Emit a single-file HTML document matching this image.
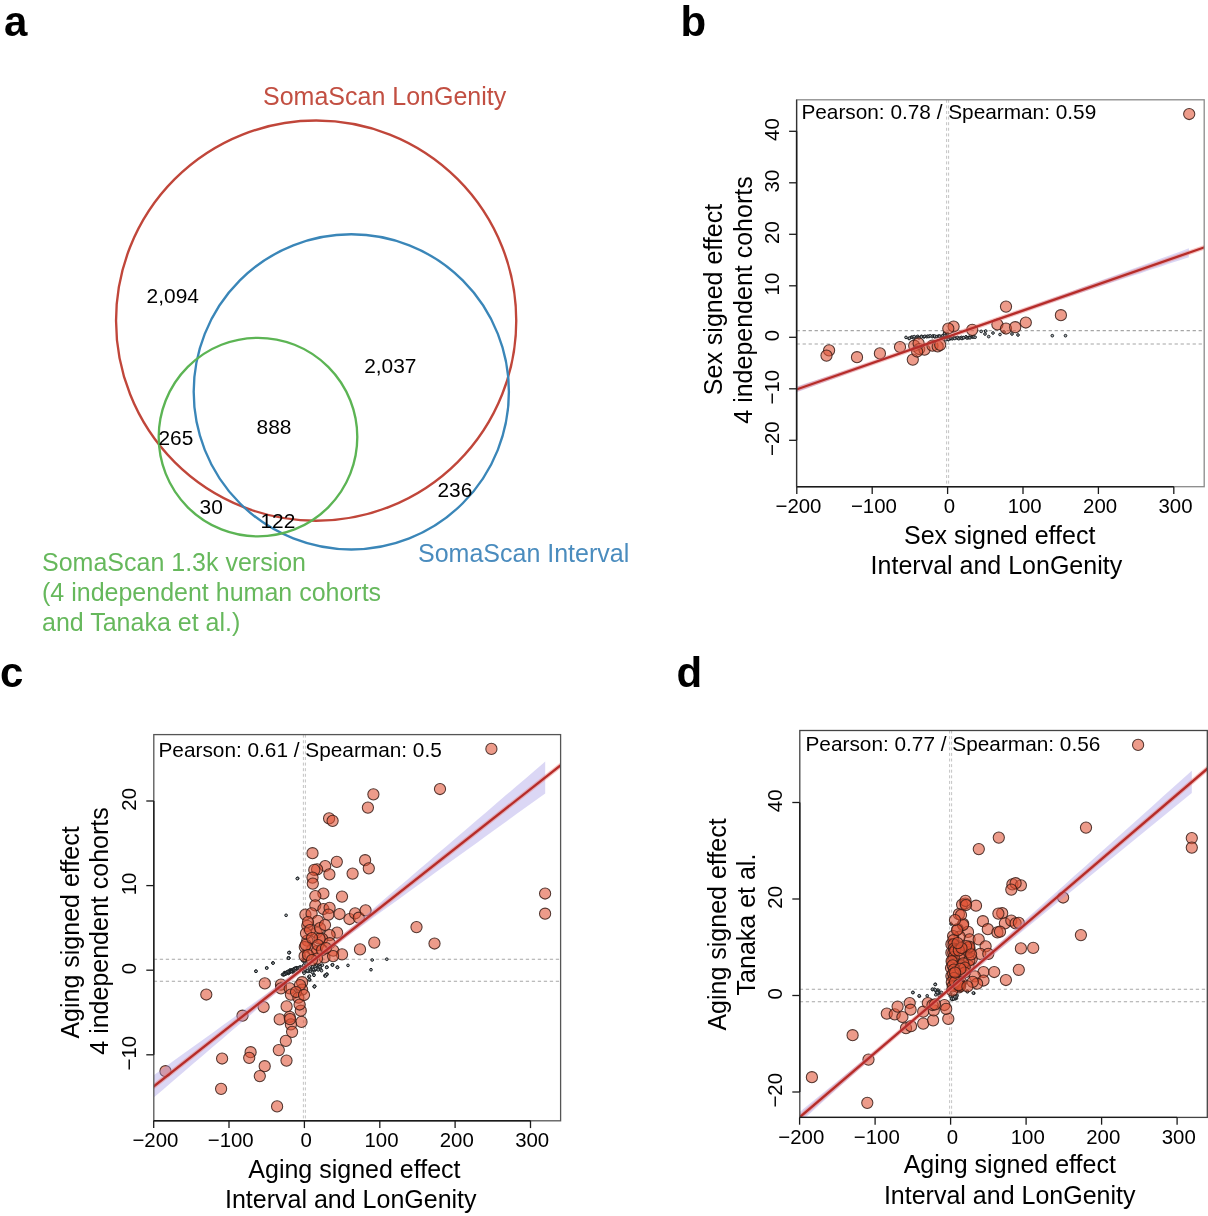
<!DOCTYPE html>
<html><head><meta charset="utf-8"><style>
html,body{margin:0;padding:0;background:#fff;}
svg{display:block;font-family:"Liberation Sans", sans-serif;will-change:transform;}
</style></head><body>
<svg width="1208" height="1216" viewBox="0 0 1208 1216">
<rect width="1208" height="1216" fill="#fff"/>
<text x="4.0" y="35.5" font-size="42" text-anchor="start" font-weight="bold" fill="#000">a</text>
<text x="680.5" y="35.5" font-size="42" text-anchor="start" font-weight="bold" fill="#000">b</text>
<text x="0.0" y="686.5" font-size="42" text-anchor="start" font-weight="bold" fill="#000">c</text>
<text x="676.5" y="686.5" font-size="42" text-anchor="start" font-weight="bold" fill="#000">d</text>
<circle cx="316.15" cy="320.65" r="200.1" fill="none" stroke="#c0463a" stroke-width="2.35"/>
<circle cx="351.3" cy="391.85" r="157.6" fill="none" stroke="#3a86b8" stroke-width="2.35"/>
<circle cx="258.0" cy="437.1" r="99.3" fill="none" stroke="#5cb454" stroke-width="2.35"/>
<text x="263.0" y="105.0" font-size="25" text-anchor="start" font-weight="normal" fill="#c24f42">SomaScan LonGenity</text>
<text x="418.0" y="561.5" font-size="25" text-anchor="start" font-weight="normal" fill="#4a8cbe">SomaScan Interval</text>
<text x="42.0" y="570.5" font-size="25" text-anchor="start" font-weight="normal" fill="#66b85c">SomaScan 1.3k version</text>
<text x="42.0" y="600.5" font-size="25" text-anchor="start" font-weight="normal" fill="#66b85c">(4 independent human cohorts</text>
<text x="42.0" y="630.5" font-size="25" text-anchor="start" font-weight="normal" fill="#66b85c">and Tanaka et al.)</text>
<text x="146.6" y="302.9" font-size="20.9" text-anchor="start" font-weight="normal" fill="#000">2,094</text>
<text x="364.2" y="372.6" font-size="20.9" text-anchor="start" font-weight="normal" fill="#000">2,037</text>
<text x="158.4" y="444.6" font-size="20.9" text-anchor="start" font-weight="normal" fill="#000">265</text>
<text x="256.6" y="433.6" font-size="20.9" text-anchor="start" font-weight="normal" fill="#000">888</text>
<text x="199.6" y="513.6" font-size="20.9" text-anchor="start" font-weight="normal" fill="#000">30</text>
<text x="260.4" y="527.6" font-size="20.9" text-anchor="start" font-weight="normal" fill="#000">122</text>
<text x="437.4" y="496.6" font-size="20.9" text-anchor="start" font-weight="normal" fill="#000">236</text>
<clipPath id="clip796"><rect x="796.6" y="99.8" width="407.6" height="386.9"/></clipPath>
<g clip-path="url(#clip796)" stroke="#a6a6a6" stroke-width="1.1" stroke-dasharray="3.3 2.7" fill="none"><line x1="796.6" y1="330.6" x2="1204.2" y2="330.6"/><line x1="796.6" y1="344.0" x2="1204.2" y2="344.0"/></g><g clip-path="url(#clip796)" stroke="#bcbcbc" stroke-width="0.9" stroke-dasharray="3 2.6" fill="none"><line x1="946.6" y1="99.8" x2="946.6" y2="486.7"/><line x1="948.6" y1="99.8" x2="948.6" y2="486.7"/></g>
<g clip-path="url(#clip796)" fill="#a8aeb2" stroke="#15191c" stroke-width="0.95"><circle cx="1052.3" cy="335.7" r="1.35"/><circle cx="1065.5" cy="335.7" r="1.35"/><circle cx="981.2" cy="331.4" r="1.35"/><circle cx="985.7" cy="331.0" r="1.35"/><circle cx="985.0" cy="334.0" r="1.35"/><circle cx="988.7" cy="336.6" r="1.35"/><circle cx="906.0" cy="337.4" r="1.35"/><circle cx="909.0" cy="338.5" r="1.35"/><circle cx="993.0" cy="333.0" r="1.35"/><circle cx="1000.0" cy="334.5" r="1.35"/><circle cx="1004.0" cy="332.0" r="1.35"/><circle cx="1012.0" cy="334.0" r="1.35"/><circle cx="1018.0" cy="335.0" r="1.35"/><circle cx="909.4" cy="338.2" r="1.35"/><circle cx="911.6" cy="337.1" r="1.35"/><circle cx="912.4" cy="337.4" r="1.35"/><circle cx="913.9" cy="337.9" r="1.35"/><circle cx="914.2" cy="336.6" r="1.35"/><circle cx="916.6" cy="337.2" r="1.35"/><circle cx="917.7" cy="336.4" r="1.35"/><circle cx="918.4" cy="337.5" r="1.35"/><circle cx="919.2" cy="337.8" r="1.35"/><circle cx="921.5" cy="336.3" r="1.35"/><circle cx="921.3" cy="337.0" r="1.35"/><circle cx="924.0" cy="336.7" r="1.35"/><circle cx="924.0" cy="336.7" r="1.35"/><circle cx="924.9" cy="336.3" r="1.35"/><circle cx="926.8" cy="336.7" r="1.35"/><circle cx="927.7" cy="336.2" r="1.35"/><circle cx="928.9" cy="336.5" r="1.35"/><circle cx="930.2" cy="335.8" r="1.35"/><circle cx="932.3" cy="336.6" r="1.35"/><circle cx="933.2" cy="335.9" r="1.35"/><circle cx="934.9" cy="336.9" r="1.35"/><circle cx="934.7" cy="336.0" r="1.35"/><circle cx="936.9" cy="336.6" r="1.35"/><circle cx="938.5" cy="336.0" r="1.35"/><circle cx="939.5" cy="336.4" r="1.35"/><circle cx="939.9" cy="336.2" r="1.35"/><circle cx="942.0" cy="336.5" r="1.35"/><circle cx="942.6" cy="336.1" r="1.35"/><circle cx="943.0" cy="335.5" r="1.35"/><circle cx="945.5" cy="335.7" r="1.35"/><circle cx="948.5" cy="338.6" r="1.35"/><circle cx="950.4" cy="338.7" r="1.35"/><circle cx="951.0" cy="338.3" r="1.35"/><circle cx="952.3" cy="338.8" r="1.35"/><circle cx="953.4" cy="338.1" r="1.35"/><circle cx="954.4" cy="337.4" r="1.35"/><circle cx="954.8" cy="338.5" r="1.35"/><circle cx="957.4" cy="338.2" r="1.35"/><circle cx="957.5" cy="337.5" r="1.35"/><circle cx="958.8" cy="338.7" r="1.35"/><circle cx="960.3" cy="337.9" r="1.35"/><circle cx="961.5" cy="337.4" r="1.35"/><circle cx="962.0" cy="338.5" r="1.35"/><circle cx="963.2" cy="337.6" r="1.35"/><circle cx="963.8" cy="337.7" r="1.35"/><circle cx="966.0" cy="336.8" r="1.35"/><circle cx="966.8" cy="338.0" r="1.35"/><circle cx="968.0" cy="337.8" r="1.35"/><circle cx="969.0" cy="337.4" r="1.35"/><circle cx="969.7" cy="337.2" r="1.35"/><circle cx="970.0" cy="337.8" r="1.35"/><circle cx="971.9" cy="336.7" r="1.35"/><circle cx="972.8" cy="337.1" r="1.35"/><circle cx="973.7" cy="336.8" r="1.35"/><circle cx="975.1" cy="337.2" r="1.35"/><circle cx="947.3" cy="336.7" r="1.35"/><circle cx="944.6" cy="334.8" r="1.35"/><circle cx="945.3" cy="337.7" r="1.35"/><circle cx="948.4" cy="339.4" r="1.35"/><circle cx="948.1" cy="339.5" r="1.35"/><circle cx="945.6" cy="339.7" r="1.35"/><circle cx="947.5" cy="333.7" r="1.35"/><circle cx="944.6" cy="333.1" r="1.35"/></g>
<g clip-path="url(#clip796)" fill="rgb(224,82,54)" fill-opacity="0.58" stroke="rgb(55,28,22)" stroke-opacity="0.85" stroke-width="1.05"><circle cx="829.1" cy="350.3" r="5.6"/><circle cx="826.5" cy="355.6" r="5.6"/><circle cx="857.0" cy="357.2" r="5.6"/><circle cx="879.9" cy="353.4" r="5.6"/><circle cx="900.0" cy="347.0" r="5.6"/><circle cx="912.8" cy="359.6" r="5.6"/><circle cx="914.2" cy="345.7" r="5.6"/><circle cx="919.2" cy="349.0" r="5.6"/><circle cx="924.5" cy="349.7" r="5.6"/><circle cx="932.5" cy="345.7" r="5.6"/><circle cx="937.7" cy="346.4" r="5.6"/><circle cx="953.6" cy="326.5" r="5.6"/><circle cx="948.3" cy="328.5" r="5.6"/><circle cx="1006.0" cy="306.6" r="5.6"/><circle cx="972.2" cy="329.8" r="5.6"/><circle cx="997.4" cy="324.5" r="5.6"/><circle cx="1006.0" cy="328.5" r="5.6"/><circle cx="1015.2" cy="327.2" r="5.6"/><circle cx="1025.8" cy="322.5" r="5.6"/><circle cx="1060.9" cy="315.2" r="5.6"/><circle cx="1189.2" cy="114.0" r="5.6"/><circle cx="918.6" cy="343.3" r="5.6"/><circle cx="917.1" cy="351.5" r="5.6"/><circle cx="940.2" cy="344.8" r="5.6"/></g>
<g clip-path="url(#clip796)"><polygon points="796.8,386.4 806.6,383.1 816.4,379.9 826.2,376.7 836.0,373.4 845.8,370.2 855.6,366.9 865.4,363.7 875.2,360.4 885.0,357.2 894.8,353.9 904.6,350.6 914.4,347.3 924.2,344.0 934.0,340.7 943.8,337.4 953.6,334.0 963.4,330.5 973.2,327.0 983.0,323.5 992.8,320.0 1002.6,316.4 1012.4,312.9 1022.2,309.3 1032.0,305.7 1041.8,302.1 1051.7,298.6 1061.5,295.0 1071.3,291.4 1081.1,287.8 1090.9,284.2 1100.7,280.6 1110.5,277.0 1120.3,273.4 1130.1,269.8 1139.9,266.3 1149.7,262.7 1159.5,259.1 1169.3,255.5 1179.1,251.9 1188.9,248.3 1188.9,257.2 1179.1,260.4 1169.3,263.6 1159.5,266.9 1149.7,270.1 1139.9,273.4 1130.1,276.6 1120.3,279.8 1110.5,283.1 1100.7,286.3 1090.9,289.6 1081.1,292.8 1071.3,296.0 1061.5,299.3 1051.7,302.5 1041.8,305.8 1032.0,309.0 1022.2,312.3 1012.4,315.5 1002.6,318.8 992.8,322.1 983.0,325.4 973.2,328.7 963.4,332.0 953.6,335.4 943.8,338.8 934.0,342.3 924.2,345.8 914.4,349.3 904.6,352.9 894.8,356.4 885.0,360.0 875.2,363.6 865.4,367.2 855.6,370.7 845.8,374.3 836.0,377.9 826.2,381.5 816.4,385.1 806.6,388.7 796.8,392.3" fill="rgb(160,150,230)" fill-opacity="0.38"/>
<line x1="751.6" y1="405.1" x2="1249.2" y2="231.7" stroke="rgb(235,120,115)" stroke-opacity="0.45" stroke-width="4.6"/>
<line x1="751.6" y1="405.1" x2="1249.2" y2="231.7" stroke="#b62c28" stroke-width="2.3"/></g>
<rect x="796.6" y="99.8" width="407.6" height="386.9" fill="none" stroke="#8a8a8a" stroke-width="1.3"/>
<line x1="796.8" y1="486.7" x2="1173.8" y2="486.7" stroke="#1a1a1a" stroke-width="1.4"/>
<line x1="796.6" y1="99.8" x2="796.6" y2="486.7" stroke="#333" stroke-width="1.3"/>
<line x1="796.6" y1="440.3" x2="796.6" y2="131.3" stroke="#1a1a1a" stroke-width="1.4"/>
<line x1="796.8" y1="486.7" x2="796.8" y2="494.0" stroke="#1a1a1a" stroke-width="1.3"/>
<text x="798.5" y="512.9" font-size="20.4" text-anchor="middle" font-weight="normal" fill="#000">−200</text>
<line x1="872.2" y1="486.7" x2="872.2" y2="494.0" stroke="#1a1a1a" stroke-width="1.3"/>
<text x="873.9" y="512.9" font-size="20.4" text-anchor="middle" font-weight="normal" fill="#000">−100</text>
<line x1="947.6" y1="486.7" x2="947.6" y2="494.0" stroke="#1a1a1a" stroke-width="1.3"/>
<text x="949.3" y="512.9" font-size="20.4" text-anchor="middle" font-weight="normal" fill="#000">0</text>
<line x1="1023.0" y1="486.7" x2="1023.0" y2="494.0" stroke="#1a1a1a" stroke-width="1.3"/>
<text x="1024.7" y="512.9" font-size="20.4" text-anchor="middle" font-weight="normal" fill="#000">100</text>
<line x1="1098.4" y1="486.7" x2="1098.4" y2="494.0" stroke="#1a1a1a" stroke-width="1.3"/>
<text x="1100.1" y="512.9" font-size="20.4" text-anchor="middle" font-weight="normal" fill="#000">200</text>
<line x1="1173.8" y1="486.7" x2="1173.8" y2="494.0" stroke="#1a1a1a" stroke-width="1.3"/>
<text x="1175.5" y="512.9" font-size="20.4" text-anchor="middle" font-weight="normal" fill="#000">300</text>
<line x1="789.1" y1="440.3" x2="796.6" y2="440.3" stroke="#1a1a1a" stroke-width="1.3"/>
<text x="779.1" y="438.6" font-size="20.4" text-anchor="middle" font-weight="normal" fill="#000" transform="rotate(-90 779.1 438.6)">−20</text>
<line x1="789.1" y1="388.8" x2="796.6" y2="388.8" stroke="#1a1a1a" stroke-width="1.3"/>
<text x="779.1" y="387.1" font-size="20.4" text-anchor="middle" font-weight="normal" fill="#000" transform="rotate(-90 779.1 387.1)">−10</text>
<line x1="789.1" y1="337.3" x2="796.6" y2="337.3" stroke="#1a1a1a" stroke-width="1.3"/>
<text x="779.1" y="335.6" font-size="20.4" text-anchor="middle" font-weight="normal" fill="#000" transform="rotate(-90 779.1 335.6)">0</text>
<line x1="789.1" y1="285.8" x2="796.6" y2="285.8" stroke="#1a1a1a" stroke-width="1.3"/>
<text x="779.1" y="284.1" font-size="20.4" text-anchor="middle" font-weight="normal" fill="#000" transform="rotate(-90 779.1 284.1)">10</text>
<line x1="789.1" y1="234.3" x2="796.6" y2="234.3" stroke="#1a1a1a" stroke-width="1.3"/>
<text x="779.1" y="232.6" font-size="20.4" text-anchor="middle" font-weight="normal" fill="#000" transform="rotate(-90 779.1 232.6)">20</text>
<line x1="789.1" y1="182.8" x2="796.6" y2="182.8" stroke="#1a1a1a" stroke-width="1.3"/>
<text x="779.1" y="181.1" font-size="20.4" text-anchor="middle" font-weight="normal" fill="#000" transform="rotate(-90 779.1 181.1)">30</text>
<line x1="789.1" y1="131.3" x2="796.6" y2="131.3" stroke="#1a1a1a" stroke-width="1.3"/>
<text x="779.1" y="129.6" font-size="20.4" text-anchor="middle" font-weight="normal" fill="#000" transform="rotate(-90 779.1 129.6)">40</text>
<text x="999.7" y="543.5" font-size="25" text-anchor="middle" font-weight="normal" fill="#000">Sex signed effect</text>
<text x="996.4" y="574.0" font-size="25" text-anchor="middle" font-weight="normal" fill="#000">Interval and LonGenity</text>
<text x="722.0" y="299.5" font-size="25" text-anchor="middle" font-weight="normal" fill="#000" transform="rotate(-90 722.0 299.5)">Sex signed effect</text>
<text x="752.0" y="300.0" font-size="25" text-anchor="middle" font-weight="normal" fill="#000" transform="rotate(-90 752.0 300.0)">4 independent cohorts</text>
<text x="801.4" y="118.7" font-size="20.8" text-anchor="start" font-weight="normal" fill="#000">Pearson: 0.78 / Spearman: 0.59</text>
<clipPath id="clip153"><rect x="153.8" y="734.6" width="406.8" height="386.19999999999993"/></clipPath>
<g clip-path="url(#clip153)" stroke="#a6a6a6" stroke-width="1.1" stroke-dasharray="3.3 2.7" fill="none"><line x1="153.8" y1="959.2" x2="560.6" y2="959.2"/><line x1="153.8" y1="981.2" x2="560.6" y2="981.2"/></g><g clip-path="url(#clip153)" stroke="#bcbcbc" stroke-width="0.9" stroke-dasharray="3 2.6" fill="none"><line x1="303.4" y1="734.6" x2="303.4" y2="1120.8"/><line x1="305.4" y1="734.6" x2="305.4" y2="1120.8"/></g>
<g clip-path="url(#clip153)" fill="#a8aeb2" stroke="#15191c" stroke-width="0.95"><circle cx="297.7" cy="878.3" r="1.35"/><circle cx="297.3" cy="878.6" r="1.35"/><circle cx="286.1" cy="915.3" r="1.35"/><circle cx="289.2" cy="952.5" r="1.35"/><circle cx="288.6" cy="958.1" r="1.35"/><circle cx="289.4" cy="952.6" r="1.35"/><circle cx="288.4" cy="957.9" r="1.35"/><circle cx="272.9" cy="962.9" r="1.35"/><circle cx="266.7" cy="967.9" r="1.35"/><circle cx="255.9" cy="971.2" r="1.35"/><circle cx="372.2" cy="960.0" r="1.35"/><circle cx="386.8" cy="959.2" r="1.35"/><circle cx="371.0" cy="969.7" r="1.35"/><circle cx="348.0" cy="965.4" r="1.35"/><circle cx="337.5" cy="967.3" r="1.35"/><circle cx="332.5" cy="964.8" r="1.35"/><circle cx="326.9" cy="967.3" r="1.35"/><circle cx="326.9" cy="974.1" r="1.35"/><circle cx="325.1" cy="975.3" r="1.35"/><circle cx="314.5" cy="986.5" r="1.35"/><circle cx="314.6" cy="986.0" r="1.35"/><circle cx="315.8" cy="964.9" r="1.35"/><circle cx="320.2" cy="966.4" r="1.35"/><circle cx="326.7" cy="967.1" r="1.35"/><circle cx="332.4" cy="964.9" r="1.35"/><circle cx="337.4" cy="967.1" r="1.35"/><circle cx="326.7" cy="974.8" r="1.35"/><circle cx="325.2" cy="975.8" r="1.35"/><circle cx="314.3" cy="986.8" r="1.35"/><circle cx="309.8" cy="979.8" r="1.35"/><circle cx="308.8" cy="976.8" r="1.35"/><circle cx="313.8" cy="974.8" r="1.35"/><circle cx="288.9" cy="952.7" r="1.35"/><circle cx="288.7" cy="958.0" r="1.35"/><circle cx="282.5" cy="974.6" r="1.35"/><circle cx="283.4" cy="974.5" r="1.35"/><circle cx="284.5" cy="972.7" r="1.35"/><circle cx="283.9" cy="974.7" r="1.35"/><circle cx="285.1" cy="972.6" r="1.35"/><circle cx="287.2" cy="973.1" r="1.35"/><circle cx="287.5" cy="972.8" r="1.35"/><circle cx="287.7" cy="971.6" r="1.35"/><circle cx="288.4" cy="973.5" r="1.35"/><circle cx="288.8" cy="972.8" r="1.35"/><circle cx="289.7" cy="970.5" r="1.35"/><circle cx="290.5" cy="971.8" r="1.35"/><circle cx="290.3" cy="969.9" r="1.35"/><circle cx="292.0" cy="971.0" r="1.35"/><circle cx="292.4" cy="971.9" r="1.35"/><circle cx="293.0" cy="971.8" r="1.35"/><circle cx="293.0" cy="971.1" r="1.35"/><circle cx="293.7" cy="971.3" r="1.35"/><circle cx="295.2" cy="968.5" r="1.35"/><circle cx="294.4" cy="968.6" r="1.35"/><circle cx="296.7" cy="969.0" r="1.35"/><circle cx="296.7" cy="968.3" r="1.35"/><circle cx="304.8" cy="969.5" r="1.35"/><circle cx="305.3" cy="970.2" r="1.35"/><circle cx="306.6" cy="971.3" r="1.35"/><circle cx="307.6" cy="971.3" r="1.35"/><circle cx="308.8" cy="971.4" r="1.35"/><circle cx="309.3" cy="967.9" r="1.35"/><circle cx="310.5" cy="971.0" r="1.35"/><circle cx="311.4" cy="969.3" r="1.35"/><circle cx="311.9" cy="967.7" r="1.35"/><circle cx="312.9" cy="969.0" r="1.35"/><circle cx="312.7" cy="966.8" r="1.35"/><circle cx="314.6" cy="970.4" r="1.35"/><circle cx="313.9" cy="969.5" r="1.35"/><circle cx="315.4" cy="966.7" r="1.35"/><circle cx="316.0" cy="969.1" r="1.35"/><circle cx="318.0" cy="966.0" r="1.35"/><circle cx="318.3" cy="965.9" r="1.35"/><circle cx="319.3" cy="966.9" r="1.35"/><circle cx="320.5" cy="969.4" r="1.35"/><circle cx="320.6" cy="969.3" r="1.35"/><circle cx="321.0" cy="965.5" r="1.35"/><circle cx="322.4" cy="965.1" r="1.35"/><circle cx="303.3" cy="952.0" r="1.35"/><circle cx="303.8" cy="954.2" r="1.35"/><circle cx="304.3" cy="956.4" r="1.35"/><circle cx="303.2" cy="958.7" r="1.35"/><circle cx="302.9" cy="960.9" r="1.35"/><circle cx="304.9" cy="963.1" r="1.35"/><circle cx="303.6" cy="965.3" r="1.35"/><circle cx="305.1" cy="967.6" r="1.35"/><circle cx="305.0" cy="969.8" r="1.35"/><circle cx="303.7" cy="972.0" r="1.35"/><circle cx="332.5" cy="964.9" r="1.35"/><circle cx="337.4" cy="967.4" r="1.35"/><circle cx="326.7" cy="967.4" r="1.35"/><circle cx="320.0" cy="966.8" r="1.35"/><circle cx="316.5" cy="964.9" r="1.35"/><circle cx="321.5" cy="970.7" r="1.35"/><circle cx="326.5" cy="974.5" r="1.35"/><circle cx="325.4" cy="976.1" r="1.35"/><circle cx="314.5" cy="986.5" r="1.35"/><circle cx="314.0" cy="975.3" r="1.35"/><circle cx="309.5" cy="976.1" r="1.35"/><circle cx="309.1" cy="979.8" r="1.35"/><circle cx="304.5" cy="960.8" r="1.35"/><circle cx="304.1" cy="957.5" r="1.35"/><circle cx="304.1" cy="973.2" r="1.35"/><circle cx="307.4" cy="970.7" r="1.35"/><circle cx="312.4" cy="972.4" r="1.35"/><circle cx="315.7" cy="968.7" r="1.35"/><circle cx="318.2" cy="969.9" r="1.35"/><circle cx="256.0" cy="971.3" r="1.35"/><circle cx="266.7" cy="968.1" r="1.35"/><circle cx="273.1" cy="963.1" r="1.35"/><circle cx="288.6" cy="958.2" r="1.35"/><circle cx="283.5" cy="974.6" r="1.35"/><circle cx="284.7" cy="974.1" r="1.35"/><circle cx="284.3" cy="974.4" r="1.35"/><circle cx="285.8" cy="973.6" r="1.35"/><circle cx="284.9" cy="974.2" r="1.35"/><circle cx="285.7" cy="973.0" r="1.35"/><circle cx="286.3" cy="973.6" r="1.35"/><circle cx="286.8" cy="972.2" r="1.35"/><circle cx="286.3" cy="973.3" r="1.35"/><circle cx="286.9" cy="972.8" r="1.35"/><circle cx="287.3" cy="972.2" r="1.35"/><circle cx="288.3" cy="972.2" r="1.35"/><circle cx="288.1" cy="972.3" r="1.35"/><circle cx="289.2" cy="972.3" r="1.35"/><circle cx="288.1" cy="971.5" r="1.35"/><circle cx="289.9" cy="972.3" r="1.35"/><circle cx="289.1" cy="971.8" r="1.35"/><circle cx="290.5" cy="971.0" r="1.35"/><circle cx="290.0" cy="971.2" r="1.35"/><circle cx="291.0" cy="971.0" r="1.35"/><circle cx="290.6" cy="971.0" r="1.35"/><circle cx="292.2" cy="969.8" r="1.35"/><circle cx="291.7" cy="971.1" r="1.35"/><circle cx="292.4" cy="969.8" r="1.35"/><circle cx="292.7" cy="970.1" r="1.35"/><circle cx="292.9" cy="969.8" r="1.35"/><circle cx="293.3" cy="969.5" r="1.35"/><circle cx="293.8" cy="969.3" r="1.35"/><circle cx="294.2" cy="969.7" r="1.35"/><circle cx="295.2" cy="968.7" r="1.35"/><circle cx="294.3" cy="969.7" r="1.35"/><circle cx="296.0" cy="968.8" r="1.35"/><circle cx="294.9" cy="968.5" r="1.35"/><circle cx="296.3" cy="968.0" r="1.35"/><circle cx="296.4" cy="969.3" r="1.35"/><circle cx="296.6" cy="967.8" r="1.35"/><circle cx="295.4" cy="969.8" r="1.35"/><circle cx="296.1" cy="968.9" r="1.35"/><circle cx="296.1" cy="968.4" r="1.35"/><circle cx="297.7" cy="968.0" r="1.35"/><circle cx="297.9" cy="968.0" r="1.35"/><circle cx="298.8" cy="967.7" r="1.35"/><circle cx="300.2" cy="966.8" r="1.35"/><circle cx="299.9" cy="968.1" r="1.35"/><circle cx="301.7" cy="967.8" r="1.35"/><circle cx="301.9" cy="967.4" r="1.35"/></g>
<g clip-path="url(#clip153)" fill="rgb(224,82,54)" fill-opacity="0.58" stroke="rgb(55,28,22)" stroke-opacity="0.85" stroke-width="1.05"><circle cx="491.4" cy="748.9" r="5.6"/><circle cx="440.0" cy="789.0" r="5.6"/><circle cx="373.4" cy="794.3" r="5.6"/><circle cx="367.9" cy="807.6" r="5.6"/><circle cx="329.1" cy="818.4" r="5.6"/><circle cx="332.6" cy="820.8" r="5.6"/><circle cx="312.5" cy="853.2" r="5.6"/><circle cx="336.8" cy="861.8" r="5.6"/><circle cx="365.1" cy="860.2" r="5.6"/><circle cx="368.8" cy="868.3" r="5.6"/><circle cx="352.6" cy="873.6" r="5.6"/><circle cx="325.2" cy="866.0" r="5.6"/><circle cx="317.1" cy="869.4" r="5.6"/><circle cx="314.3" cy="869.9" r="5.6"/><circle cx="329.4" cy="874.3" r="5.6"/><circle cx="312.5" cy="877.6" r="5.6"/><circle cx="312.8" cy="883.6" r="5.6"/><circle cx="323.4" cy="893.5" r="5.6"/><circle cx="315.3" cy="896.0" r="5.6"/><circle cx="342.0" cy="896.6" r="5.6"/><circle cx="315.3" cy="905.3" r="5.6"/><circle cx="323.4" cy="909.0" r="5.6"/><circle cx="329.6" cy="907.8" r="5.6"/><circle cx="305.4" cy="914.6" r="5.6"/><circle cx="311.6" cy="913.4" r="5.6"/><circle cx="328.4" cy="914.6" r="5.6"/><circle cx="339.5" cy="914.0" r="5.6"/><circle cx="349.5" cy="919.0" r="5.6"/><circle cx="355.1" cy="913.4" r="5.6"/><circle cx="358.8" cy="917.7" r="5.6"/><circle cx="365.6" cy="910.3" r="5.6"/><circle cx="317.8" cy="920.8" r="5.6"/><circle cx="307.3" cy="925.8" r="5.6"/><circle cx="316.6" cy="932.6" r="5.6"/><circle cx="337.1" cy="932.6" r="5.6"/><circle cx="329.6" cy="935.1" r="5.6"/><circle cx="322.2" cy="938.9" r="5.6"/><circle cx="307.3" cy="940.7" r="5.6"/><circle cx="312.2" cy="949.4" r="5.6"/><circle cx="329.6" cy="943.2" r="5.6"/><circle cx="333.3" cy="950.6" r="5.6"/><circle cx="342.0" cy="954.4" r="5.6"/><circle cx="360.0" cy="949.4" r="5.6"/><circle cx="374.3" cy="942.6" r="5.6"/><circle cx="416.5" cy="927.1" r="5.6"/><circle cx="306.0" cy="933.3" r="5.6"/><circle cx="304.8" cy="947.0" r="5.6"/><circle cx="319.5" cy="938.7" r="5.6"/><circle cx="305.8" cy="944.9" r="5.6"/><circle cx="317.0" cy="951.1" r="5.6"/><circle cx="324.4" cy="957.3" r="5.6"/><circle cx="304.6" cy="956.1" r="5.6"/><circle cx="317.0" cy="958.6" r="5.6"/><circle cx="333.1" cy="956.1" r="5.6"/><circle cx="264.8" cy="983.4" r="5.6"/><circle cx="281.0" cy="984.6" r="5.6"/><circle cx="281.0" cy="988.4" r="5.6"/><circle cx="289.7" cy="988.4" r="5.6"/><circle cx="290.9" cy="994.6" r="5.6"/><circle cx="302.1" cy="982.2" r="5.6"/><circle cx="302.1" cy="989.6" r="5.6"/><circle cx="298.4" cy="997.7" r="5.6"/><circle cx="286.6" cy="1006.4" r="5.6"/><circle cx="263.6" cy="1007.0" r="5.6"/><circle cx="242.5" cy="1015.7" r="5.6"/><circle cx="279.7" cy="1019.4" r="5.6"/><circle cx="289.7" cy="1016.9" r="5.6"/><circle cx="300.8" cy="1010.7" r="5.6"/><circle cx="299.6" cy="1004.5" r="5.6"/><circle cx="301.5" cy="1021.9" r="5.6"/><circle cx="290.9" cy="1024.4" r="5.6"/><circle cx="206.3" cy="994.5" r="5.6"/><circle cx="290.0" cy="1019.1" r="5.6"/><circle cx="292.1" cy="1031.8" r="5.6"/><circle cx="285.8" cy="1040.9" r="5.6"/><circle cx="278.8" cy="1050.1" r="5.6"/><circle cx="286.5" cy="1060.6" r="5.6"/><circle cx="250.6" cy="1052.2" r="5.6"/><circle cx="249.2" cy="1057.8" r="5.6"/><circle cx="222.1" cy="1058.5" r="5.6"/><circle cx="264.7" cy="1066.2" r="5.6"/><circle cx="259.8" cy="1076.1" r="5.6"/><circle cx="165.5" cy="1071.2" r="5.6"/><circle cx="221.1" cy="1088.8" r="5.6"/><circle cx="277.1" cy="1106.4" r="5.6"/><circle cx="545.1" cy="893.5" r="5.6"/><circle cx="545.1" cy="913.7" r="5.6"/><circle cx="434.5" cy="943.5" r="5.6"/><circle cx="308.0" cy="922.0" r="5.6"/><circle cx="310.0" cy="930.0" r="5.6"/><circle cx="320.0" cy="928.0" r="5.6"/><circle cx="325.0" cy="925.0" r="5.6"/><circle cx="312.0" cy="938.0" r="5.6"/><circle cx="318.0" cy="945.0" r="5.6"/><circle cx="322.0" cy="950.0" r="5.6"/><circle cx="308.0" cy="955.0" r="5.6"/><circle cx="312.0" cy="960.0" r="5.6"/><circle cx="326.0" cy="948.0" r="5.6"/><circle cx="300.0" cy="985.0" r="5.6"/><circle cx="296.0" cy="992.0" r="5.6"/><circle cx="304.0" cy="995.0" r="5.6"/></g>
<g clip-path="url(#clip153)"><polygon points="153.7,1075.3 163.5,1068.2 173.3,1061.1 183.0,1054.1 192.8,1047.0 202.6,1039.9 212.4,1032.9 222.2,1025.8 232.0,1018.7 241.8,1011.6 251.6,1004.5 261.3,997.4 271.1,990.2 280.9,983.1 290.7,975.8 300.5,968.5 310.3,960.9 320.1,953.2 329.9,945.2 339.6,937.1 349.4,928.9 359.2,920.6 369.0,912.3 378.8,904.0 388.6,895.6 398.4,887.3 408.2,878.9 417.9,870.6 427.7,862.2 437.5,853.8 447.3,845.4 457.1,837.1 466.9,828.7 476.7,820.3 486.5,811.9 496.2,803.5 506.0,795.1 515.8,786.8 525.6,778.4 535.4,770.0 545.2,761.6 545.2,793.5 535.4,800.5 525.6,807.6 515.8,814.6 506.0,821.7 496.2,828.7 486.5,835.8 476.7,842.9 466.9,849.9 457.1,857.0 447.3,864.1 437.5,871.1 427.7,878.2 417.9,885.3 408.2,892.3 398.4,899.4 388.6,906.5 378.8,913.6 369.0,920.7 359.2,927.9 349.4,935.0 339.6,942.3 329.9,949.6 320.1,957.1 310.3,964.8 300.5,972.7 290.7,980.8 280.9,989.0 271.1,997.2 261.3,1005.5 251.6,1013.9 241.8,1022.2 232.0,1030.6 222.2,1038.9 212.4,1047.3 202.6,1055.7 192.8,1064.0 183.0,1072.4 173.3,1080.8 163.5,1089.2 153.7,1097.6" fill="rgb(160,150,230)" fill-opacity="0.38"/>
<line x1="108.5" y1="1122.1" x2="605.8" y2="729.7" stroke="rgb(235,120,115)" stroke-opacity="0.45" stroke-width="4.6"/>
<line x1="108.5" y1="1122.1" x2="605.8" y2="729.7" stroke="#b62c28" stroke-width="2.3"/></g>
<rect x="153.8" y="734.6" width="406.8" height="386.2" fill="none" stroke="#555" stroke-width="1.3"/>
<line x1="153.7" y1="1120.8" x2="530.5" y2="1120.8" stroke="#1a1a1a" stroke-width="1.4"/>
<line x1="153.8" y1="1054.8" x2="153.8" y2="801.0" stroke="#1a1a1a" stroke-width="1.4"/>
<line x1="153.7" y1="1120.8" x2="153.7" y2="1128.1" stroke="#1a1a1a" stroke-width="1.3"/>
<text x="155.4" y="1147.0" font-size="20.4" text-anchor="middle" font-weight="normal" fill="#000">−200</text>
<line x1="229.0" y1="1120.8" x2="229.0" y2="1128.1" stroke="#1a1a1a" stroke-width="1.3"/>
<text x="230.7" y="1147.0" font-size="20.4" text-anchor="middle" font-weight="normal" fill="#000">−100</text>
<line x1="304.4" y1="1120.8" x2="304.4" y2="1128.1" stroke="#1a1a1a" stroke-width="1.3"/>
<text x="306.1" y="1147.0" font-size="20.4" text-anchor="middle" font-weight="normal" fill="#000">0</text>
<line x1="379.8" y1="1120.8" x2="379.8" y2="1128.1" stroke="#1a1a1a" stroke-width="1.3"/>
<text x="381.5" y="1147.0" font-size="20.4" text-anchor="middle" font-weight="normal" fill="#000">100</text>
<line x1="455.1" y1="1120.8" x2="455.1" y2="1128.1" stroke="#1a1a1a" stroke-width="1.3"/>
<text x="456.8" y="1147.0" font-size="20.4" text-anchor="middle" font-weight="normal" fill="#000">200</text>
<line x1="530.5" y1="1120.8" x2="530.5" y2="1128.1" stroke="#1a1a1a" stroke-width="1.3"/>
<text x="532.2" y="1147.0" font-size="20.4" text-anchor="middle" font-weight="normal" fill="#000">300</text>
<line x1="146.3" y1="1054.8" x2="153.8" y2="1054.8" stroke="#1a1a1a" stroke-width="1.3"/>
<text x="136.3" y="1053.1" font-size="20.4" text-anchor="middle" font-weight="normal" fill="#000" transform="rotate(-90 136.3 1053.1)">−10</text>
<line x1="146.3" y1="970.2" x2="153.8" y2="970.2" stroke="#1a1a1a" stroke-width="1.3"/>
<text x="136.3" y="968.5" font-size="20.4" text-anchor="middle" font-weight="normal" fill="#000" transform="rotate(-90 136.3 968.5)">0</text>
<line x1="146.3" y1="885.6" x2="153.8" y2="885.6" stroke="#1a1a1a" stroke-width="1.3"/>
<text x="136.3" y="883.9" font-size="20.4" text-anchor="middle" font-weight="normal" fill="#000" transform="rotate(-90 136.3 883.9)">10</text>
<line x1="146.3" y1="801.0" x2="153.8" y2="801.0" stroke="#1a1a1a" stroke-width="1.3"/>
<text x="136.3" y="799.3" font-size="20.4" text-anchor="middle" font-weight="normal" fill="#000" transform="rotate(-90 136.3 799.3)">20</text>
<text x="354.4" y="1177.8" font-size="25" text-anchor="middle" font-weight="normal" fill="#000">Aging signed effect</text>
<text x="350.8" y="1207.5" font-size="25" text-anchor="middle" font-weight="normal" fill="#000">Interval and LonGenity</text>
<text x="79.0" y="932.5" font-size="25" text-anchor="middle" font-weight="normal" fill="#000" transform="rotate(-90 79.0 932.5)">Aging signed effect</text>
<text x="108.0" y="931.0" font-size="25" text-anchor="middle" font-weight="normal" fill="#000" transform="rotate(-90 108.0 931.0)">4 independent cohorts</text>
<text x="158.5" y="756.5" font-size="20.8" text-anchor="start" font-weight="normal" fill="#000">Pearson: 0.61 / Spearman: 0.5</text>
<clipPath id="clip799"><rect x="799.8" y="730.5" width="407.5" height="386.9000000000001"/></clipPath>
<g clip-path="url(#clip799)" stroke="#a6a6a6" stroke-width="1.1" stroke-dasharray="3.3 2.7" fill="none"><line x1="799.8" y1="989.2" x2="1207.3" y2="989.2"/><line x1="799.8" y1="1001.8" x2="1207.3" y2="1001.8"/></g><g clip-path="url(#clip799)" stroke="#bcbcbc" stroke-width="0.9" stroke-dasharray="3 2.6" fill="none"><line x1="949.6" y1="730.5" x2="949.6" y2="1117.4"/><line x1="951.6" y1="730.5" x2="951.6" y2="1117.4"/></g>
<g clip-path="url(#clip799)" fill="#a8aeb2" stroke="#15191c" stroke-width="0.95"><circle cx="935.4" cy="984.3" r="1.35"/><circle cx="913.0" cy="992.5" r="1.35"/><circle cx="919.4" cy="996.2" r="1.35"/><circle cx="927.2" cy="995.8" r="1.35"/><circle cx="950.7" cy="994.0" r="1.35"/><circle cx="973.8" cy="993.2" r="1.35"/><circle cx="967.1" cy="991.0" r="1.35"/><circle cx="951.1" cy="924.0" r="1.35"/><circle cx="935.1" cy="984.5" r="1.35"/><circle cx="912.8" cy="992.5" r="1.35"/><circle cx="919.2" cy="995.8" r="1.35"/><circle cx="967.4" cy="991.8" r="1.35"/><circle cx="973.3" cy="993.0" r="1.35"/><circle cx="950.3" cy="994.4" r="1.35"/><circle cx="955.7" cy="997.6" r="1.35"/><circle cx="941.6" cy="995.2" r="1.35"/><circle cx="932.6" cy="989.6" r="1.35"/><circle cx="940.4" cy="993.8" r="1.35"/><circle cx="938.7" cy="991.0" r="1.35"/><circle cx="938.1" cy="992.9" r="1.35"/><circle cx="937.8" cy="990.0" r="1.35"/><circle cx="936.3" cy="991.6" r="1.35"/><circle cx="939.2" cy="995.5" r="1.35"/><circle cx="941.5" cy="992.5" r="1.35"/><circle cx="936.4" cy="990.7" r="1.35"/><circle cx="932.4" cy="989.2" r="1.35"/><circle cx="936.6" cy="991.1" r="1.35"/><circle cx="935.8" cy="994.8" r="1.35"/><circle cx="937.3" cy="992.6" r="1.35"/><circle cx="934.4" cy="989.2" r="1.35"/><circle cx="935.3" cy="989.9" r="1.35"/><circle cx="953.0" cy="999.2" r="1.35"/><circle cx="954.5" cy="995.5" r="1.35"/><circle cx="956.4" cy="998.3" r="1.35"/><circle cx="955.0" cy="998.8" r="1.35"/><circle cx="955.3" cy="998.3" r="1.35"/><circle cx="951.6" cy="999.1" r="1.35"/><circle cx="957.1" cy="995.4" r="1.35"/><circle cx="955.2" cy="997.9" r="1.35"/><circle cx="952.6" cy="997.1" r="1.35"/><circle cx="952.8" cy="998.9" r="1.35"/><circle cx="952.9" cy="998.4" r="1.35"/><circle cx="951.6" cy="998.7" r="1.35"/><circle cx="956.5" cy="996.8" r="1.35"/><circle cx="953.5" cy="998.8" r="1.35"/><circle cx="954.9" cy="996.9" r="1.35"/><circle cx="950.4" cy="996.2" r="1.35"/><circle cx="950.7" cy="940.0" r="1.35"/><circle cx="951.3" cy="946.1" r="1.35"/><circle cx="951.3" cy="948.6" r="1.35"/><circle cx="951.4" cy="972.4" r="1.35"/><circle cx="950.3" cy="961.1" r="1.35"/><circle cx="950.6" cy="965.3" r="1.35"/><circle cx="949.8" cy="942.5" r="1.35"/><circle cx="950.3" cy="986.0" r="1.35"/></g>
<g clip-path="url(#clip799)" fill="rgb(224,82,54)" fill-opacity="0.58" stroke="rgb(55,28,22)" stroke-opacity="0.85" stroke-width="1.05"><circle cx="811.9" cy="1077.2" r="5.6"/><circle cx="852.6" cy="1035.2" r="5.6"/><circle cx="868.5" cy="1059.6" r="5.6"/><circle cx="867.3" cy="1102.8" r="5.6"/><circle cx="886.8" cy="1013.6" r="5.6"/><circle cx="894.7" cy="1014.3" r="5.6"/><circle cx="897.6" cy="1006.6" r="5.6"/><circle cx="902.4" cy="1017.0" r="5.6"/><circle cx="909.7" cy="1003.0" r="5.6"/><circle cx="910.6" cy="1009.7" r="5.6"/><circle cx="906.0" cy="1028.2" r="5.6"/><circle cx="911.0" cy="1026.2" r="5.6"/><circle cx="923.2" cy="1023.6" r="5.6"/><circle cx="923.2" cy="1011.7" r="5.6"/><circle cx="927.8" cy="1003.0" r="5.6"/><circle cx="933.1" cy="1020.3" r="5.6"/><circle cx="933.8" cy="1010.3" r="5.6"/><circle cx="944.4" cy="1005.0" r="5.6"/><circle cx="948.3" cy="1018.9" r="5.6"/><circle cx="932.5" cy="1005.0" r="5.6"/><circle cx="951.0" cy="968.0" r="5.6"/><circle cx="954.3" cy="978.5" r="5.6"/><circle cx="1012.4" cy="884.3" r="5.6"/><circle cx="1020.9" cy="885.3" r="5.6"/><circle cx="1015.6" cy="883.2" r="5.6"/><circle cx="1011.3" cy="889.6" r="5.6"/><circle cx="965.3" cy="903.5" r="5.6"/><circle cx="962.1" cy="904.6" r="5.6"/><circle cx="976.0" cy="905.7" r="5.6"/><circle cx="958.9" cy="914.2" r="5.6"/><circle cx="1002.2" cy="913.2" r="5.6"/><circle cx="982.9" cy="921.2" r="5.6"/><circle cx="963.2" cy="923.9" r="5.6"/><circle cx="957.8" cy="929.2" r="5.6"/><circle cx="968.0" cy="931.9" r="5.6"/><circle cx="987.8" cy="929.2" r="5.6"/><circle cx="997.4" cy="932.4" r="5.6"/><circle cx="1004.9" cy="923.3" r="5.6"/><circle cx="1011.3" cy="920.6" r="5.6"/><circle cx="1015.6" cy="923.3" r="5.6"/><circle cx="1018.8" cy="922.8" r="5.6"/><circle cx="969.6" cy="939.4" r="5.6"/><circle cx="978.7" cy="939.4" r="5.6"/><circle cx="985.6" cy="946.3" r="5.6"/><circle cx="958.9" cy="946.3" r="5.6"/><circle cx="969.6" cy="949.5" r="5.6"/><circle cx="980.3" cy="953.8" r="5.6"/><circle cx="988.3" cy="953.8" r="5.6"/><circle cx="1020.9" cy="948.4" r="5.6"/><circle cx="1033.2" cy="947.9" r="5.6"/><circle cx="958.9" cy="957.0" r="5.6"/><circle cx="971.7" cy="959.1" r="5.6"/><circle cx="952.5" cy="961.3" r="5.6"/><circle cx="964.2" cy="969.8" r="5.6"/><circle cx="983.5" cy="972.0" r="5.6"/><circle cx="994.2" cy="972.0" r="5.6"/><circle cx="1018.8" cy="969.8" r="5.6"/><circle cx="1005.9" cy="980.0" r="5.6"/><circle cx="974.9" cy="976.3" r="5.6"/><circle cx="983.5" cy="980.5" r="5.6"/><circle cx="977.1" cy="983.7" r="5.6"/><circle cx="956.7" cy="978.4" r="5.6"/><circle cx="959.9" cy="984.8" r="5.6"/><circle cx="953.5" cy="984.8" r="5.6"/><circle cx="951.4" cy="952.7" r="5.6"/><circle cx="951.4" cy="944.2" r="5.6"/><circle cx="954.6" cy="949.5" r="5.6"/><circle cx="961.0" cy="953.8" r="5.6"/><circle cx="962.1" cy="965.6" r="5.6"/><circle cx="968.5" cy="965.6" r="5.6"/><circle cx="1138.1" cy="744.9" r="5.6"/><circle cx="1086.0" cy="827.6" r="5.6"/><circle cx="998.8" cy="837.6" r="5.6"/><circle cx="978.8" cy="849.1" r="5.6"/><circle cx="1191.8" cy="838.1" r="5.6"/><circle cx="1191.8" cy="847.6" r="5.6"/><circle cx="1063.1" cy="897.5" r="5.6"/><circle cx="965.5" cy="900.8" r="5.6"/><circle cx="1080.9" cy="935.1" r="5.6"/><circle cx="1000.0" cy="931.7" r="5.6"/><circle cx="935.0" cy="1004.4" r="5.6"/><circle cx="946.2" cy="1008.9" r="5.6"/><circle cx="956.6" cy="981.3" r="5.6"/><circle cx="958.9" cy="987.3" r="5.6"/><circle cx="961.1" cy="982.0" r="5.6"/><circle cx="969.3" cy="960.4" r="5.6"/><circle cx="969.3" cy="952.2" r="5.6"/><circle cx="951.4" cy="976.1" r="5.6"/><circle cx="963.3" cy="963.4" r="5.6"/><circle cx="959.6" cy="936.6" r="5.6"/><circle cx="998.4" cy="913.6" r="5.6"/><circle cx="953.1" cy="936.0" r="5.6"/><circle cx="953.4" cy="940.2" r="5.6"/><circle cx="953.5" cy="944.4" r="5.6"/><circle cx="953.9" cy="948.6" r="5.6"/><circle cx="953.3" cy="952.8" r="5.6"/><circle cx="953.8" cy="957.0" r="5.6"/><circle cx="951.6" cy="961.2" r="5.6"/><circle cx="952.7" cy="965.4" r="5.6"/><circle cx="953.9" cy="969.6" r="5.6"/><circle cx="953.1" cy="973.8" r="5.6"/><circle cx="953.8" cy="978.0" r="5.6"/><circle cx="951.8" cy="982.2" r="5.6"/><circle cx="952.7" cy="986.4" r="5.6"/><circle cx="952.1" cy="990.6" r="5.6"/><circle cx="964.8" cy="967.5" r="5.6"/><circle cx="955.2" cy="950.4" r="5.6"/><circle cx="960.0" cy="984.0" r="5.6"/><circle cx="968.8" cy="947.7" r="5.6"/><circle cx="969.3" cy="946.7" r="5.6"/><circle cx="966.1" cy="946.1" r="5.6"/><circle cx="955.0" cy="981.8" r="5.6"/><circle cx="958.8" cy="950.3" r="5.6"/><circle cx="972.7" cy="981.9" r="5.6"/><circle cx="960.2" cy="986.2" r="5.6"/><circle cx="964.7" cy="972.5" r="5.6"/><circle cx="958.7" cy="985.2" r="5.6"/><circle cx="967.4" cy="986.4" r="5.6"/><circle cx="971.1" cy="954.3" r="5.6"/><circle cx="961.5" cy="948.0" r="5.6"/><circle cx="957.6" cy="943.1" r="5.6"/><circle cx="960.4" cy="968.9" r="5.6"/><circle cx="955.1" cy="972.5" r="5.6"/><circle cx="961.0" cy="915.0" r="5.6"/><circle cx="963.0" cy="925.0" r="5.6"/><circle cx="957.0" cy="930.0" r="5.6"/><circle cx="966.0" cy="905.0" r="5.6"/><circle cx="955.0" cy="920.0" r="5.6"/></g>
<g clip-path="url(#clip799)"><polygon points="799.6,1112.0 809.4,1104.0 819.2,1096.0 829.0,1088.0 838.8,1080.0 848.6,1072.0 858.4,1064.0 868.2,1055.9 878.0,1047.9 887.9,1039.8 897.7,1031.6 907.5,1023.5 917.3,1015.2 927.1,1006.8 936.9,998.3 946.7,989.7 956.5,981.1 966.3,972.4 976.1,963.7 985.9,955.0 995.7,946.3 1005.5,937.5 1015.3,928.8 1025.1,920.0 1034.9,911.2 1044.7,902.5 1054.5,893.7 1064.4,884.9 1074.2,876.1 1084.0,867.4 1093.8,858.6 1103.6,849.8 1113.4,841.0 1123.2,832.2 1133.0,823.5 1142.8,814.7 1152.6,805.9 1162.4,797.1 1172.2,788.3 1182.0,779.6 1191.8,770.8 1191.8,793.1 1182.0,801.1 1172.2,809.1 1162.4,817.1 1152.6,825.1 1142.8,833.1 1133.0,841.0 1123.2,849.0 1113.4,857.0 1103.6,865.0 1093.8,873.0 1084.0,881.0 1074.2,889.0 1064.4,897.0 1054.5,905.0 1044.7,913.0 1034.9,921.0 1025.1,929.0 1015.3,937.0 1005.5,945.0 995.7,953.0 985.9,961.0 976.1,969.1 966.3,977.2 956.5,985.2 946.7,993.4 936.9,1001.6 927.1,1009.9 917.3,1018.3 907.5,1026.8 897.7,1035.3 887.9,1044.0 878.0,1052.6 868.2,1061.3 858.4,1070.1 848.6,1078.8 838.8,1087.6 829.0,1096.3 819.2,1105.1 809.4,1113.9 799.6,1122.6" fill="rgb(160,150,230)" fill-opacity="0.38"/>
<line x1="754.3" y1="1156.1" x2="1252.6" y2="730.0" stroke="rgb(235,120,115)" stroke-opacity="0.45" stroke-width="4.6"/>
<line x1="754.3" y1="1156.1" x2="1252.6" y2="730.0" stroke="#b62c28" stroke-width="2.3"/></g>
<rect x="799.8" y="730.5" width="407.5" height="386.9" fill="none" stroke="#444" stroke-width="1.3"/>
<line x1="799.6" y1="1117.4" x2="1177.1" y2="1117.4" stroke="#1a1a1a" stroke-width="1.4"/>
<line x1="799.8" y1="1092.0" x2="799.8" y2="802.5" stroke="#1a1a1a" stroke-width="1.4"/>
<line x1="799.6" y1="1117.4" x2="799.6" y2="1124.7" stroke="#1a1a1a" stroke-width="1.3"/>
<text x="801.3" y="1143.6" font-size="20.4" text-anchor="middle" font-weight="normal" fill="#000">−200</text>
<line x1="875.1" y1="1117.4" x2="875.1" y2="1124.7" stroke="#1a1a1a" stroke-width="1.3"/>
<text x="876.8" y="1143.6" font-size="20.4" text-anchor="middle" font-weight="normal" fill="#000">−100</text>
<line x1="950.6" y1="1117.4" x2="950.6" y2="1124.7" stroke="#1a1a1a" stroke-width="1.3"/>
<text x="952.3" y="1143.6" font-size="20.4" text-anchor="middle" font-weight="normal" fill="#000">0</text>
<line x1="1026.1" y1="1117.4" x2="1026.1" y2="1124.7" stroke="#1a1a1a" stroke-width="1.3"/>
<text x="1027.8" y="1143.6" font-size="20.4" text-anchor="middle" font-weight="normal" fill="#000">100</text>
<line x1="1101.6" y1="1117.4" x2="1101.6" y2="1124.7" stroke="#1a1a1a" stroke-width="1.3"/>
<text x="1103.3" y="1143.6" font-size="20.4" text-anchor="middle" font-weight="normal" fill="#000">200</text>
<line x1="1177.1" y1="1117.4" x2="1177.1" y2="1124.7" stroke="#1a1a1a" stroke-width="1.3"/>
<text x="1178.8" y="1143.6" font-size="20.4" text-anchor="middle" font-weight="normal" fill="#000">300</text>
<line x1="792.3" y1="1092.0" x2="799.8" y2="1092.0" stroke="#1a1a1a" stroke-width="1.3"/>
<text x="782.3" y="1090.3" font-size="20.4" text-anchor="middle" font-weight="normal" fill="#000" transform="rotate(-90 782.3 1090.3)">−20</text>
<line x1="792.3" y1="995.5" x2="799.8" y2="995.5" stroke="#1a1a1a" stroke-width="1.3"/>
<text x="782.3" y="993.8" font-size="20.4" text-anchor="middle" font-weight="normal" fill="#000" transform="rotate(-90 782.3 993.8)">0</text>
<line x1="792.3" y1="899.0" x2="799.8" y2="899.0" stroke="#1a1a1a" stroke-width="1.3"/>
<text x="782.3" y="897.3" font-size="20.4" text-anchor="middle" font-weight="normal" fill="#000" transform="rotate(-90 782.3 897.3)">20</text>
<line x1="792.3" y1="802.5" x2="799.8" y2="802.5" stroke="#1a1a1a" stroke-width="1.3"/>
<text x="782.3" y="800.8" font-size="20.4" text-anchor="middle" font-weight="normal" fill="#000" transform="rotate(-90 782.3 800.8)">40</text>
<text x="1009.8" y="1173.3" font-size="25" text-anchor="middle" font-weight="normal" fill="#000">Aging signed effect</text>
<text x="1009.7" y="1203.5" font-size="25" text-anchor="middle" font-weight="normal" fill="#000">Interval and LonGenity</text>
<text x="725.5" y="924.5" font-size="25" text-anchor="middle" font-weight="normal" fill="#000" transform="rotate(-90 725.5 924.5)">Aging signed effect</text>
<text x="755.0" y="924.5" font-size="25" text-anchor="middle" font-weight="normal" fill="#000" transform="rotate(-90 755.0 924.5)">Tanaka et al.</text>
<text x="805.5" y="750.8" font-size="20.8" text-anchor="start" font-weight="normal" fill="#000">Pearson: 0.77 / Spearman: 0.56</text>
</svg></body></html>
